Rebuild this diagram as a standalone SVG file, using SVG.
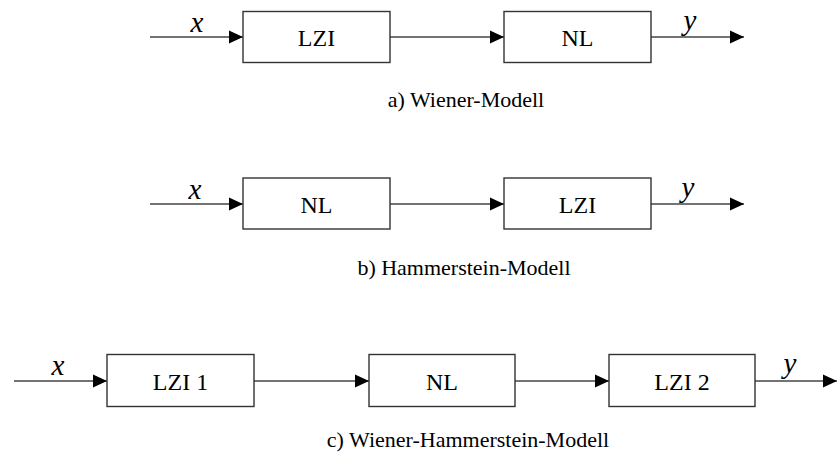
<svg xmlns="http://www.w3.org/2000/svg" width="838" height="462" viewBox="0 0 838 462">
<style>
.box{fill:#fff;stroke:#333;stroke-width:1.4}
.ln{fill:none;stroke:#444;stroke-width:1.4}
.t{font-family:"Liberation Serif","Times New Roman",serif;font-size:22px;fill:#000;text-anchor:middle}
.b{font-size:24px}
.v{font-family:"Liberation Serif","Times New Roman",serif;font-size:29px;font-style:italic;fill:#000;text-anchor:middle}
</style>
<defs>
<marker id="ah" markerUnits="userSpaceOnUse" markerWidth="15" markerHeight="15" viewBox="0 0 15 15" refX="14" refY="7.5" orient="auto">
<path d="M0,1 L14,7.5 L0,14 Z" fill="#000"/>
</marker>
</defs>
<g id="connectors">
<line class="ln" x1="150" y1="37" x2="243" y2="37" marker-end="url(#ah)"/>
<line class="ln" x1="390" y1="37" x2="504" y2="37" marker-end="url(#ah)"/>
<line class="ln" x1="651" y1="37" x2="744" y2="37" marker-end="url(#ah)"/>
<line class="ln" x1="150" y1="204" x2="243" y2="204" marker-end="url(#ah)"/>
<line class="ln" x1="390" y1="204" x2="504" y2="204" marker-end="url(#ah)"/>
<line class="ln" x1="651" y1="204" x2="744" y2="204" marker-end="url(#ah)"/>
<line class="ln" x1="14" y1="381" x2="107" y2="381" marker-end="url(#ah)"/>
<line class="ln" x1="254" y1="381" x2="369" y2="381" marker-end="url(#ah)"/>
<line class="ln" x1="515" y1="381" x2="609" y2="381" marker-end="url(#ah)"/>
<line class="ln" x1="755" y1="381" x2="837" y2="381" marker-end="url(#ah)"/>
</g>
<g id="labels">
<text class="v" x="197" y="32">x</text>
<text class="v" x="690" y="30">y</text>
<text class="v" x="195" y="199">x</text>
<text class="v" x="688" y="197">y</text>
<text class="v" x="58" y="375">x</text>
<text class="v" x="790" y="373">y</text>
</g>
<g id="a-lzi"><rect class="box" x="243" y="11.5" width="147" height="51"/><text class="t b" x="316.5" y="45.5">LZI</text></g>
<g id="a-nl"><rect class="box" x="504" y="11.5" width="147" height="51"/><text class="t b" x="577.5" y="45.5">NL</text></g>
<text id="cap-a" class="t" x="466" y="107">a) Wiener-Modell</text>
<g id="b-nl"><rect class="box" x="243" y="178" width="147" height="51"/><text class="t b" x="316.5" y="212.5">NL</text></g>
<g id="b-lzi"><rect class="box" x="504" y="178" width="147" height="51"/><text class="t b" x="577.5" y="212.5">LZI</text></g>
<text id="cap-b" class="t" x="464" y="275">b) Hammerstein-Modell</text>
<g id="c-lzi1"><rect class="box" x="107" y="354.5" width="147" height="52"/><text class="t b" x="180.5" y="389.5">LZI 1</text></g>
<g id="c-nl"><rect class="box" x="369" y="354.5" width="146" height="52"/><text class="t b" x="442" y="389.5">NL</text></g>
<g id="c-lzi2"><rect class="box" x="609" y="354.5" width="146" height="52"/><text class="t b" x="682" y="389.5">LZI 2</text></g>
<text id="cap-c" class="t" x="468" y="447">c) Wiener-Hammerstein-Modell</text>
</svg>
